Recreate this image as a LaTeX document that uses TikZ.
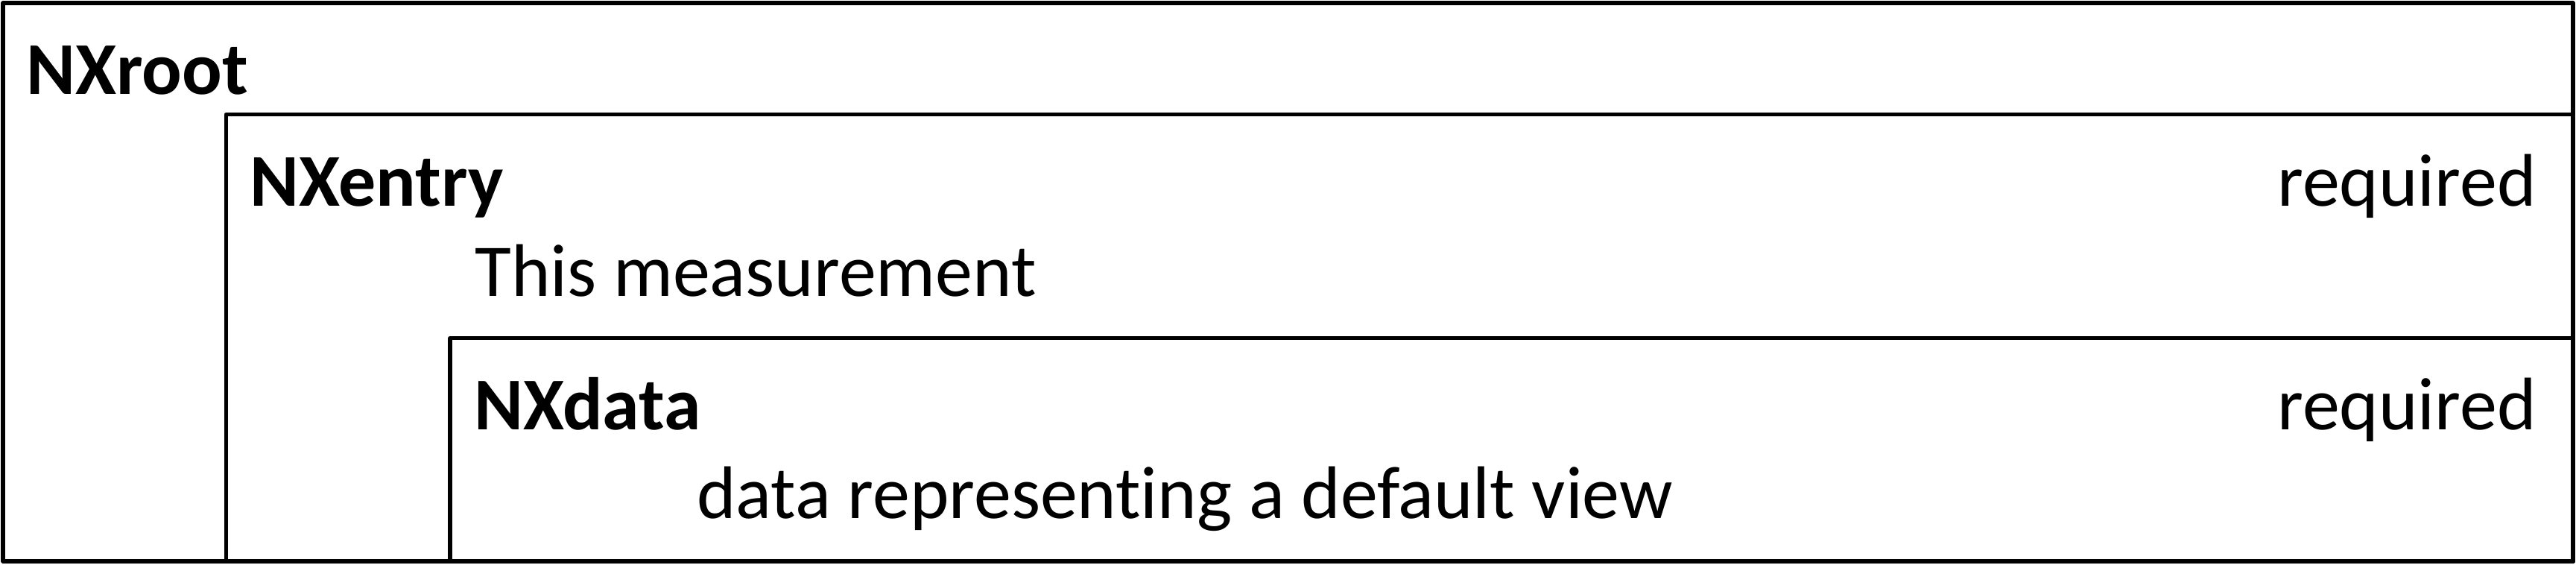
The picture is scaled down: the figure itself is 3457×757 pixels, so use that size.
\documentclass[tikz,border=0pt]{standalone}
\usepackage{fontspec}
\setmainfont[Ligatures={NoCommon,NoRequired,NoContextual}]{Carlito}
\begin{document}
\begin{tikzpicture}[x=0.5pt,y=-0.5pt,
  boxline/.style={draw=black,line width=2.65pt,line join=round},
  title/.style={anchor=base west,inner sep=0pt,font=\fontsize{50}{60}\selectfont\bfseries},
  desc/.style={anchor=base west,inner sep=0pt,font=\fontsize{50}{60}\selectfont},
  req/.style={anchor=base east,inner sep=0pt,font=\fontsize{50}{60}\selectfont}]
\useasboundingbox (0,0) rectangle (3457,757);
\fill[white] (0,0) rectangle (3457,757);
% boxes
\draw[boxline] (4,4) rectangle (3453,753);
\draw[boxline] (303.5,153.5) rectangle (3453,753);
\draw[boxline] (604,453.5) rectangle (3453,753);
% texts
\node[title] (root) at (35,126) {NXroot};
\node[title] (entry) at (335,276) {NXentry};
\node[req] (entryreq) at (3404,276) {required};
\node[desc] (entrydesc) at (637,397) {This measurement};
\node[title] (data) at (636,576) {NXdata};
\node[req] (datareq) at (3404,576) {required};
\node[desc] (datadesc) at (935,695) {data represent{}ing a default view};
\end{tikzpicture}
\end{document}
